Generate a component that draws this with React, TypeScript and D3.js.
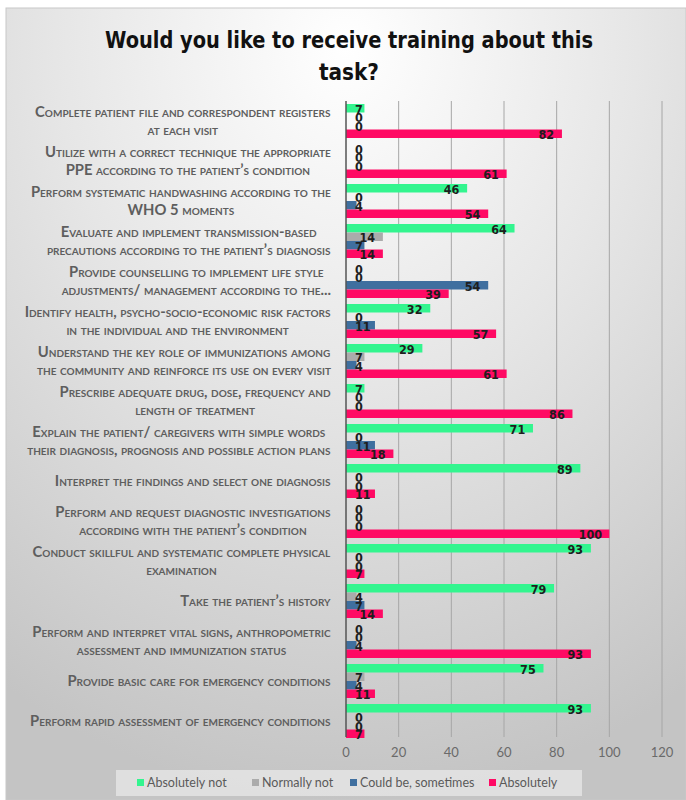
import React, { useEffect, useRef } from "react";
import * as d3 from "d3";

const title = ["Would you like to receive training about this", "task?"];

const categories: string[][] = [
  ["Complete patient file and correspondent registers", "at each visit"],
  ["Utilize with a correct technique the appropriate", "PPE according to the patient’s condition"],
  ["Perform systematic handwashing according to the", "WHO 5 moments"],
  ["Evaluate and implement transmission-based", "precautions according to the patient’s diagnosis"],
  ["Provide counselling to implement life style", "adjustments/ management according to the..."],
  ["Identify health, psycho-socio-economic risk factors", "in the individual and the environment"],
  ["Understand the key role of immunizations among", "the community and reinforce its use on every visit"],
  ["Prescribe adequate drug, dose, frequency and", "length of treatment"],
  ["Explain the patient/ caregivers with simple words", "their diagnosis, prognosis and possible action plans"],
  ["Interpret the findings and select one diagnosis"],
  ["Perform and request diagnostic investigations", "according with the patient’s condition"],
  ["Conduct skillful and systematic complete physical", "examination"],
  ["Take the patient’s history"],
  ["Perform and interpret vital signs, anthropometric", "assessment and immunization status"],
  ["Provide basic care for emergency conditions"],
  ["Perform rapid assessment of emergency conditions"],
];

const seriesNames = ["Absolutely not", "Normally not", "Could be, sometimes", "Absolutely"];
const seriesColors = ["#33F58F", "#ABABAB", "#3F6F9F", "#FF0A64"];

const absolutelyNot = [7, 0, 46, 64, 0, 32, 29, 7, 71, 89, 0, 93, 79, 0, 75, 93];
const normallyNot = [0, 0, 0, 14, 0, 0, 7, 0, 0, 0, 0, 0, 4, 0, 7, 0];
const couldBe = [0, 0, 4, 7, 54, 11, 4, 0, 11, 0, 0, 0, 7, 4, 4, 0];
const absolutely = [82, 61, 54, 14, 39, 57, 61, 86, 18, 11, 100, 7, 14, 93, 11, 7];

const xTicks = [0, 20, 40, 60, 80, 100, 120];

const W = 686;
const H = 800;

export default function App() {
  const ref = useRef<SVGSVGElement | null>(null);

  useEffect(() => {
    document.body.style.margin = "0";
    const svg = d3.select(ref.current);
    svg.selectAll("*").remove();

    const defs = svg.append("defs");
    const rg = defs
      .append("radialGradient")
      .attr("id", "bg")
      .attr("cx", "50%")
      .attr("cy", "5%")
      .attr("r", "95%");
    rg.append("stop").attr("offset", "0%").attr("stop-color", "#ffffff");
    rg.append("stop").attr("offset", "45%").attr("stop-color", "#e6e6e6");
    rg.append("stop").attr("offset", "100%").attr("stop-color", "#c4c4c4");

    svg
      .append("rect")
      .attr("x", 6)
      .attr("y", 8)
      .attr("width", W - 6)
      .attr("height", H - 8)
      .attr("fill", "url(#bg)")
      .attr("stroke", "#c8c8c8")
      .attr("stroke-width", 1);

    // Title
    const titleG = svg.append("g");
    title.forEach((t, i) => {
      const tx = titleG
        .append("text")
        .attr("x", 349)
        .attr("y", 48 + i * 32)
        .attr("text-anchor", "middle")
        .attr("font-family", "'DejaVu Sans Condensed', 'DejaVu Sans', sans-serif")
        .attr("font-weight", "bold")
        .attr("font-size", 23)
        .attr("fill", "#111")
        .text(t);
      if (i === 0) tx.attr("textLength", 488).attr("lengthAdjust", "spacingAndGlyphs");
      else tx.attr("textLength", 60).attr("lengthAdjust", "spacingAndGlyphs");
    });

    const x = d3.scaleLinear().domain([0, 120]).range([346, 662]);
    const y = d3
      .scaleBand<number>()
      .domain(d3.range(categories.length))
      .range([101, 741])
      .paddingInner(0.15)
      .paddingOuter(0.075);
    const ys = d3
      .scaleBand<number>()
      .domain(d3.range(4))
      .range([0, y.bandwidth()]);

    const series = [absolutelyNot, normallyNot, couldBe, absolutely];

    // Gridlines
    svg
      .append("g")
      .selectAll("line")
      .data(xTicks.filter((t) => t > 0))
      .join("line")
      .attr("x1", (d) => x(d))
      .attr("x2", (d) => x(d))
      .attr("y1", 101)
      .attr("y2", 737)
      .attr("stroke", "#a6a6a6")
      .attr("stroke-width", 1);

    // Tick labels
    svg
      .append("g")
      .selectAll("text")
      .data(xTicks)
      .join("text")
      .attr("x", (d) => x(d))
      .attr("y", 757)
      .attr("text-anchor", "middle")
      .attr("font-family", "Lato, 'Open Sans', sans-serif")
      .attr("font-size", 13)
      .attr("fill", "#6a6a6a")
      .text((d) => String(d));

    // Bars
    const barsG = svg.append("g");
    const labelsG = svg.append("g");
    series.forEach((vals, si) => {
      barsG
        .append("g")
        .selectAll("rect")
        .data(vals)
        .join("rect")
        .attr("x", x(0))
        .attr("y", (_, i) => (y(i) as number) + (ys(si) as number))
        .attr("width", (d) => x(d) - x(0))
        .attr("height", ys.bandwidth())
        .attr("fill", seriesColors[si]);
    });
    series.forEach((vals, si) => {
      labelsG
        .append("g")
        .selectAll("text")
        .data(vals)
        .join("text")
        .attr("y", (_, i) => (y(i) as number) + (ys(si) as number) + ys.bandwidth() + 1)
        .attr("font-family", "'DejaVu Sans Condensed', 'DejaVu Sans', sans-serif")
        .attr("font-weight", "bold")
        .attr("font-size", 12.5)
        .attr("fill", "#1e1e1e")
        .attr("x", (d) => Math.max(x(d) - 9 - 7.2 * String(d).length, 355))
        .text((d) => String(d));
    });

    // Axis line
    svg
      .append("line")
      .attr("x1", x(0))
      .attr("x2", x(0))
      .attr("y1", 101)
      .attr("y2", 737)
      .attr("stroke", "#555")
      .attr("stroke-width", 1.5);

    // Category labels
    const catG = svg.append("g");
    const baseSize = 11.4;
    categories.forEach((lines, ci) => {
      const cy = (y(ci) as number) + y.bandwidth() / 2;
      const g = catG.append("g");
      lines.forEach((ln, li) => {
        const off = lines.length === 1 ? 0 : li === 0 ? -9 : 9;
        g.append("text")
          .attr("y", cy + off)
          .attr("dy", "0.35em")
          .attr("text-anchor", "middle")
          .attr("x", 0)
          .attr("font-family", "Lato, 'Open Sans', sans-serif")
          .attr("font-weight", "bold")
          .style("font-variant", "small-caps")
          .attr("font-size", baseSize)
          .attr("fill", "#5e5e5e")
          .text(ln);
      });
    });

    const layout = () => {
      const texts = catG.selectAll<SVGTextElement, unknown>("text");
      texts.attr("font-size", baseSize);
      let maxW = 0;
      texts.each(function () {
        maxW = Math.max(maxW, (this as SVGTextElement).getBBox().width);
      });
      if (maxW > 0) texts.attr("font-size", (baseSize * 317) / maxW);
      catG.selectAll<SVGGElement, unknown>(":scope > g").each(function () {
        const g = this as SVGGElement;
        const bb = g.getBBox();
        g.setAttribute("transform", `translate(${331 - (bb.x + bb.width)},0)`);
      });
    };
    layout();
    if ((document as any).fonts && (document as any).fonts.ready) {
      (document as any).fonts.ready.then(layout);
    }

    // Legend
    const lg = svg.append("g");
    lg.append("rect")
      .attr("x", 116)
      .attr("y", 770)
      .attr("width", 466)
      .attr("height", 26)
      .attr("fill", "#e4e4e4")
      .attr("opacity", 0.85);
    const legendX = [137, 252, 350, 489];
    seriesNames.forEach((n, i) => {
      lg.append("rect")
        .attr("x", legendX[i])
        .attr("y", 779)
        .attr("width", 7)
        .attr("height", 7)
        .attr("fill", seriesColors[i]);
      lg.append("text")
        .attr("x", legendX[i] + 10)
        .attr("y", 787)
        .attr("font-family", "Lato, 'Open Sans', sans-serif")
        .attr("font-size", 12.5)
        .attr("fill", "#5a5a5a")
        .text(n);
    });
  }, []);

  return (
    <svg
      ref={ref}
      width={W}
      height={H}
      style={{ position: "absolute", left: 0, top: 0, display: "block" }}
    />
  );
}
